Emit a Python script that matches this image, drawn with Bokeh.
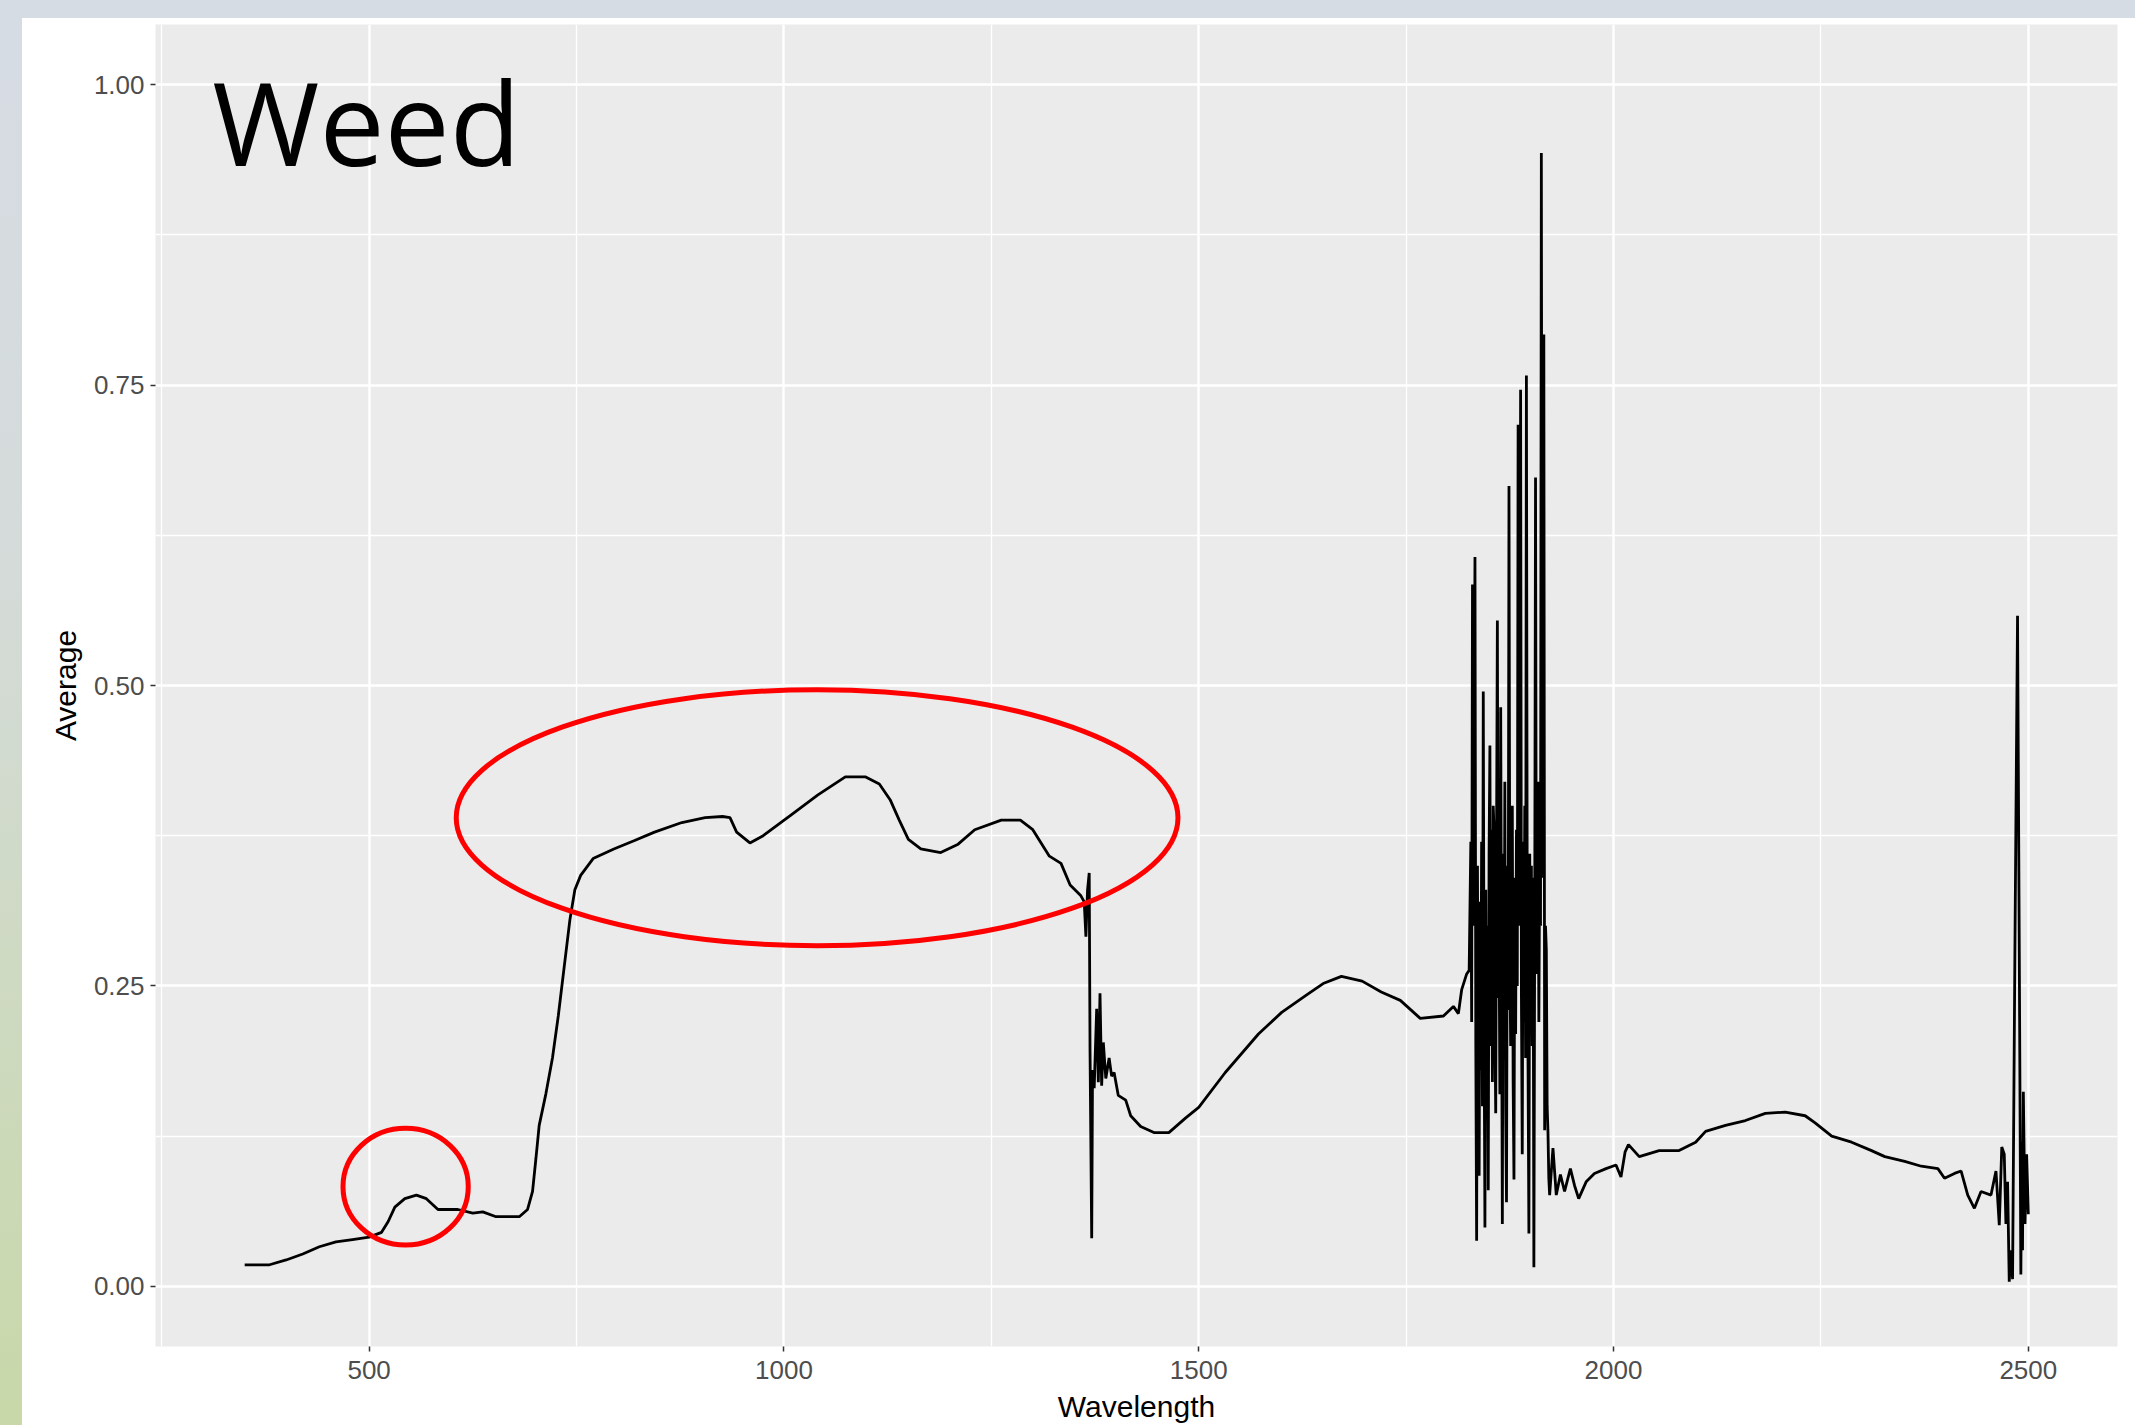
import numpy as np
from bokeh.plotting import figure
from bokeh.models import FixedTicker, Div, PrintfTickFormatter
from bokeh.layouts import row, column
from bokeh.core.properties import value
from bokeh.embed import file_html
from bokeh.resources import INLINE

# ---------------- data ----------------
wavelength = [
    350, 380, 400, 420, 440, 460, 480, 500, 515, 523, 531, 543, 557, 569, 583, 607, 625, 637, 653, 681,
    691, 697, 701, 705, 713, 721, 728, 735, 742, 748, 755, 770, 795, 820, 844, 877, 905, 926, 935, 943,
    959, 975, 1008, 1041, 1074, 1098, 1115, 1128, 1139, 1150, 1165, 1189, 1210, 1230, 1262, 1285, 1300,
    1320, 1334, 1345, 1358, 1362, 1364, 1366, 1368, 1369, 1371, 1372, 1374, 1377, 1379, 1381, 1383, 1385,
    1388, 1392, 1395, 1398, 1403, 1412, 1418, 1430, 1446, 1464, 1484, 1500, 1532, 1572, 1600, 1631, 1650,
    1672, 1697, 1720, 1743, 1767, 1795, 1807, 1813, 1817, 1823, 1826,
    1828, 1829, 1830, 1831, 1832, 1833, 1834, 1835, 1836, 1837, 1838, 1839, 1840, 1841, 1842, 1843, 1844,
    1845, 1846, 1847, 1848, 1849, 1850, 1851, 1852, 1853, 1854, 1855, 1856, 1857, 1858, 1859, 1860, 1861,
    1862, 1863, 1864, 1865, 1866, 1867, 1868, 1869, 1870, 1871, 1872, 1873, 1874, 1875, 1876, 1877, 1878,
    1879, 1880, 1881, 1882, 1883, 1884, 1885, 1886, 1887, 1888, 1889, 1890, 1891, 1892, 1893, 1894, 1895,
    1896, 1897, 1898, 1899, 1900, 1901, 1902, 1903, 1904, 1905, 1906, 1907, 1908, 1909, 1910, 1911, 1912,
    1913, 1914, 1915, 1916, 1917, 1918, 1919, 1920, 1921, 1922, 1923,
    1927, 1931, 1936, 1941, 1948, 1953, 1958, 1967, 1977, 1991, 2003, 2009, 2014, 2018, 2031, 2055, 2079,
    2099, 2111, 2135, 2159, 2183, 2207, 2231, 2243, 2263, 2287, 2311, 2327, 2351, 2371, 2391, 2399, 2411,
    2419, 2427, 2435, 2443, 2455, 2461, 2465, 2468, 2471, 2473, 2475, 2477, 2479, 2481, 2484, 2487, 2489,
    2491, 2492, 2493, 2494, 2496, 2498, 2500,
]
average = [
    0.018, 0.018, 0.022, 0.027, 0.033, 0.037, 0.039, 0.041, 0.045, 0.054, 0.066, 0.073, 0.076, 0.073, 0.064,
    0.064, 0.061, 0.062, 0.058, 0.058, 0.064, 0.079, 0.106, 0.134, 0.160, 0.190, 0.225, 0.265, 0.305, 0.330,
    0.342, 0.356, 0.364, 0.371, 0.378, 0.386, 0.390, 0.391, 0.390, 0.378, 0.369, 0.375, 0.392, 0.409, 0.424,
    0.424, 0.418, 0.405, 0.388, 0.372, 0.364, 0.361, 0.368, 0.380, 0.388, 0.388, 0.380, 0.358, 0.352, 0.334,
    0.325, 0.320, 0.291, 0.330, 0.344, 0.195, 0.040, 0.180, 0.165, 0.231, 0.170, 0.244, 0.167, 0.203, 0.173,
    0.190, 0.175, 0.178, 0.159, 0.155, 0.142, 0.133, 0.128, 0.128, 0.140, 0.149, 0.178, 0.210, 0.228, 0.243,
    0.252, 0.258, 0.254, 0.245, 0.238, 0.223, 0.225, 0.233, 0.227, 0.247, 0.260, 0.263,
    0.370, 0.220, 0.584, 0.300, 0.450, 0.607, 0.200, 0.038, 0.350, 0.160, 0.092, 0.320, 0.180, 0.370, 0.150,
    0.495, 0.210, 0.049, 0.330, 0.140, 0.300, 0.080, 0.360, 0.450, 0.200, 0.380, 0.170, 0.400, 0.380, 0.220,
    0.144, 0.370, 0.554, 0.240, 0.300, 0.160, 0.482, 0.260, 0.052, 0.360, 0.190, 0.420, 0.150, 0.070, 0.350,
    0.230, 0.666, 0.280, 0.200, 0.390, 0.400, 0.170, 0.089, 0.340, 0.210, 0.380, 0.250, 0.717, 0.300, 0.420,
    0.746, 0.240, 0.110, 0.370, 0.220, 0.400, 0.190, 0.758, 0.300, 0.180, 0.044, 0.360, 0.250, 0.350, 0.200,
    0.340, 0.016, 0.300, 0.673, 0.260, 0.310, 0.420, 0.220, 0.360, 0.300, 0.943, 0.380, 0.340, 0.792, 0.130,
    0.300, 0.280, 0.150, 0.128, 0.090, 0.076,
    0.115, 0.076, 0.093, 0.079, 0.098, 0.084, 0.073, 0.087, 0.094, 0.098, 0.101, 0.091, 0.112, 0.118, 0.108,
    0.113, 0.113, 0.120, 0.129, 0.134, 0.138, 0.144, 0.145, 0.142, 0.136, 0.125, 0.120, 0.113, 0.108, 0.104,
    0.100, 0.098, 0.090, 0.094, 0.096, 0.076, 0.065, 0.079, 0.076, 0.096, 0.051, 0.116, 0.110, 0.052, 0.087,
    0.004, 0.030, 0.006, 0.294, 0.558, 0.294, 0.010, 0.120, 0.030, 0.162, 0.052, 0.110, 0.060,
]

x_ticks = [500, 1000, 1500, 2000, 2500]
x_minor = [250, 750, 1250, 1750, 2250]
y_ticks = [0.0, 0.25, 0.50, 0.75, 1.00]
y_minor = [0.125, 0.375, 0.625, 0.875]

title_text = "Weed"
x_label = "Wavelength"
y_label = "Average"

# highlighted regions: centre wavelength, centre value, width, height
ellipse_x = [1040, 544]
ellipse_y = [0.390, 0.083]
ellipse_w = [870, 151]
ellipse_h = [0.213, 0.097]

# ---------------- figure ----------------
fig = figure(
    width=2113, height=1407,
    x_range=(242.5, 2607.5), y_range=(-0.05, 1.05),
    output_backend="svg", toolbar_location=None,
    min_border_left=133, min_border_right=18, min_border_top=6, min_border_bottom=78,
)
fig.background_fill_color = "#ebebeb"
fig.border_fill_color = "white"
fig.outline_line_color = None

xt = FixedTicker(ticks=x_ticks, minor_ticks=x_minor)
yt = FixedTicker(ticks=y_ticks, minor_ticks=y_minor)
fig.xaxis.ticker = xt
fig.yaxis.ticker = yt
fig.xgrid.ticker = xt
fig.ygrid.ticker = yt
fig.yaxis.formatter = PrintfTickFormatter(format="%.2f")

for g in (fig.xgrid, fig.ygrid):
    g.grid_line_color = "white"
    g.grid_line_width = 2.4
    g.minor_grid_line_color = "white"
    g.minor_grid_line_width = 1.3

for ax in (fig.xaxis, fig.yaxis):
    ax.axis_line_color = None
    ax.major_tick_line_color = "#333333"
    ax.major_tick_line_width = 1.5
    ax.major_tick_out = 5
    ax.major_tick_in = 0
    ax.minor_tick_line_color = None
    ax.major_label_text_font = "Liberation Sans"
    ax.major_label_text_font_size = "26px"
    ax.major_label_text_color = "#4d4d4d"
    ax.major_label_standoff = 6
    ax.axis_label_text_font = "Liberation Sans"
    ax.axis_label_text_font_size = "30px"
    ax.axis_label_text_font_style = "normal"
    ax.axis_label_text_color = "black"

fig.xaxis.axis_label = x_label
fig.xaxis.major_label_standoff = 9
fig.xaxis.axis_label_standoff = 8
fig.yaxis.axis_label = y_label
fig.yaxis.axis_label_standoff = 9

fig.line(wavelength, average, line_color="black", line_width=2.8)

fig.ellipse(x=ellipse_x, y=ellipse_y, width=ellipse_w, height=ellipse_h,
            fill_color=None, line_color="#ff0000", line_width=5)

fig.text(x=[311], y=[0.970], text=[title_text], text_font=value("Open Sans"),
         text_font_size="116px", text_baseline="alphabetic", text_align="left",
         text_color="black")

left_strip = Div(text="", width=22, height=1425, margin=0,
                 styles={"background": "linear-gradient(to bottom, #d6dce4 0%, #d4dbd9 40%, #c8d8a8 100%)"})
top_strip = Div(text="", width=2113, height=18, margin=0, styles={"background-color": "#d6dce4"})

p = row(left_strip, column(top_strip, fig, spacing=0), spacing=0)

open("out.html", "w").write(file_html(p, INLINE))
